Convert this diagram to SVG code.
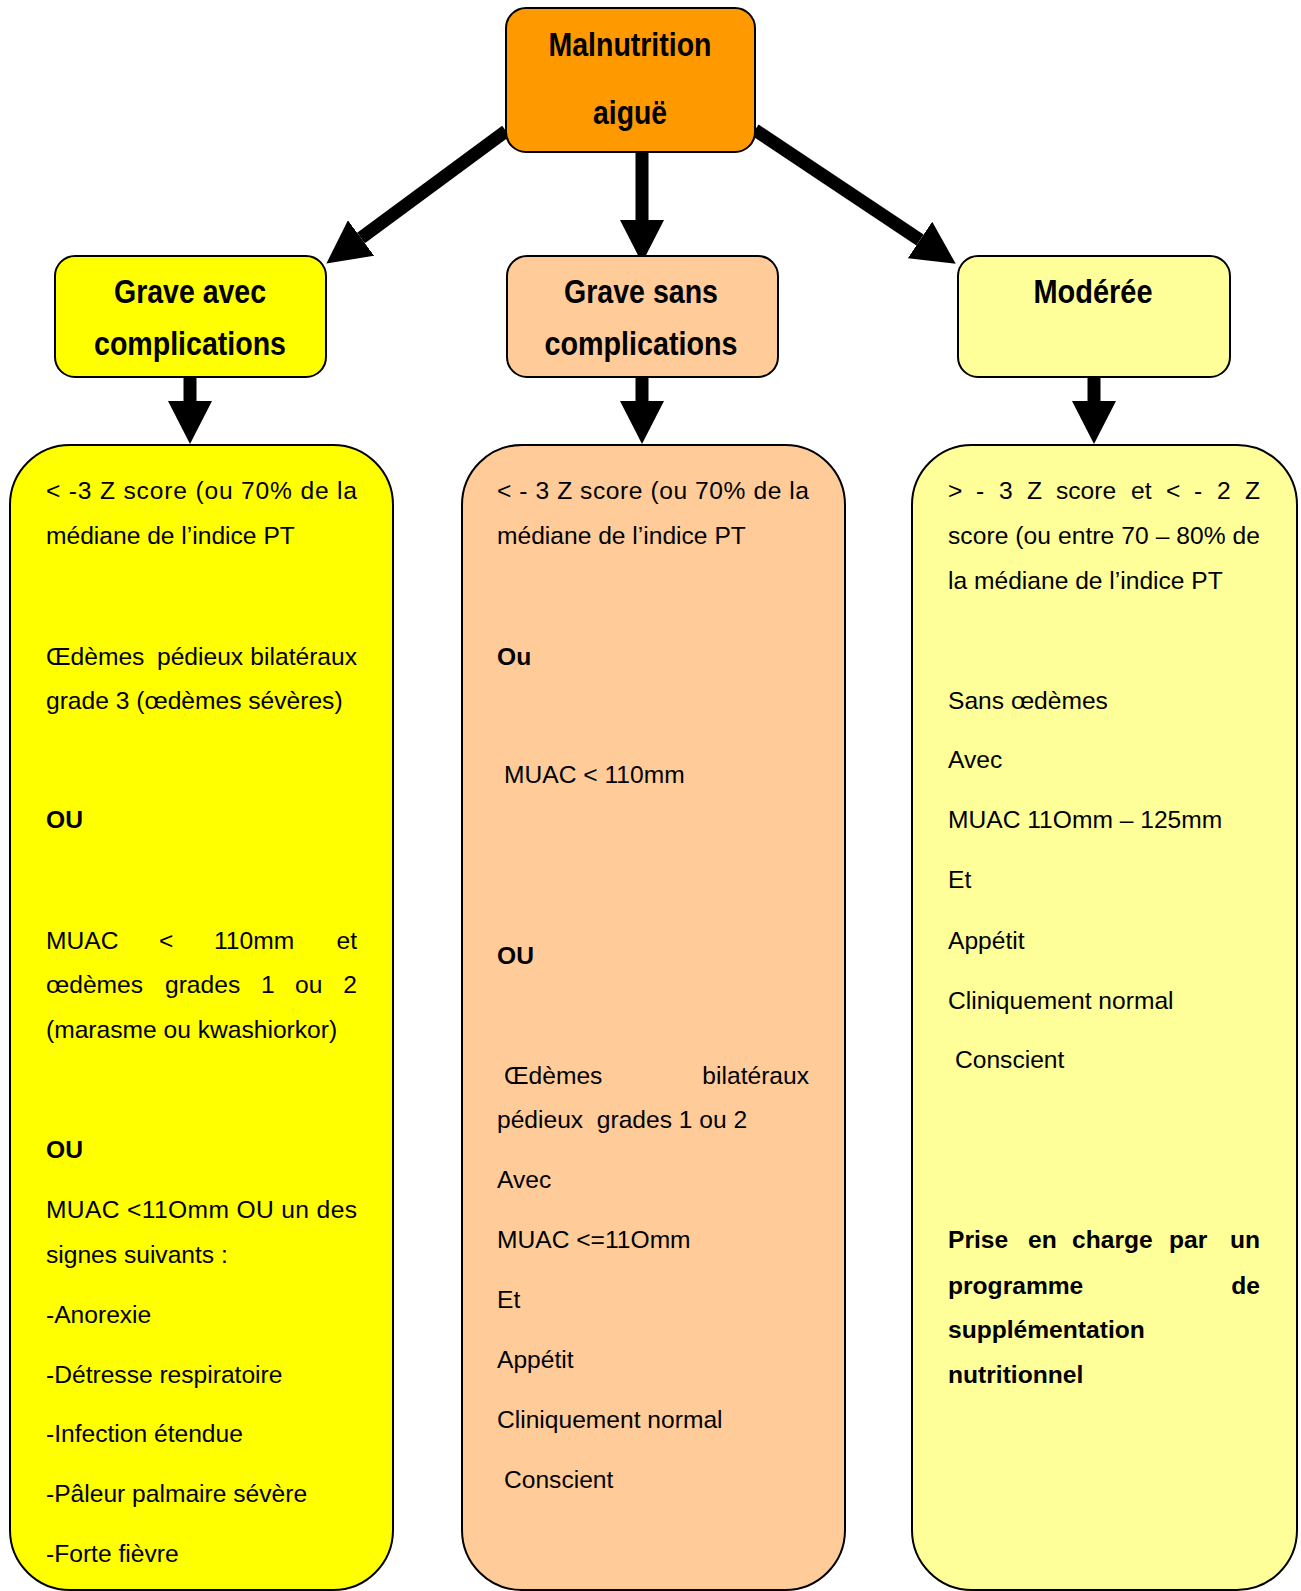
<svg xmlns="http://www.w3.org/2000/svg" width="1301" height="1591" viewBox="0 0 1301 1591">
<defs>
<style>
.box{stroke:#000;stroke-width:2}
.h{font-family:"Liberation Sans",Arial,sans-serif;font-weight:bold;font-size:33px;fill:#000;text-anchor:middle}
.t{font-family:"Liberation Sans",Arial,sans-serif;font-size:24.6px;fill:#000}
.b{font-weight:bold}
.e{text-anchor:end}
.conn{stroke:#000;stroke-width:13;fill:none;marker-end:url(#ah)}
</style>
<marker id="ah" markerUnits="userSpaceOnUse" markerWidth="44" markerHeight="44" refX="0" refY="22" orient="auto" viewBox="0 0 44 44">
<path d="M0,0 L43,22 L0,44 Z" fill="#000"/>
</marker>
</defs>
<rect width="1301" height="1591" fill="#fff"/>

<g id="connectors">
<line class="conn" x1="506" y1="131" x2="361" y2="238"/>
<line class="conn" x1="642" y1="150" x2="642" y2="220"/>
<line class="conn" x1="755" y1="130" x2="920" y2="240"/>
<line class="conn" x1="190" y1="376" x2="190" y2="401"/>
<line class="conn" x1="642" y1="376" x2="642" y2="401"/>
<line class="conn" x1="1094" y1="376" x2="1094" y2="401"/>
</g>

<g id="malnutrition">
<rect class="box" x="506" y="8" width="249" height="144" rx="20" fill="#FF9900"/>
<text class="h" x="630" y="56" textLength="163" lengthAdjust="spacingAndGlyphs">Malnutrition</text>
<text class="h" x="630" y="124" textLength="74" lengthAdjust="spacingAndGlyphs">aiguë</text>
</g>

<g id="grave-avec">
<rect class="box" x="55" y="256" width="271" height="121" rx="20" fill="#FFFF00"/>
<text class="h" x="190" y="303" textLength="152" lengthAdjust="spacingAndGlyphs">Grave avec</text>
<text class="h" x="190" y="355" textLength="192" lengthAdjust="spacingAndGlyphs">complications</text>
</g>

<g id="grave-sans">
<rect class="box" x="507" y="256" width="271" height="121" rx="20" fill="#FFCC99"/>
<text class="h" x="641" y="303" textLength="154" lengthAdjust="spacingAndGlyphs">Grave sans</text>
<text class="h" x="641" y="355" textLength="193" lengthAdjust="spacingAndGlyphs">complications</text>
</g>

<g id="moderee">
<rect class="box" x="958" y="256" width="272" height="121" rx="20" fill="#FFFF99"/>
<text class="h" x="1093" y="303" textLength="119" lengthAdjust="spacingAndGlyphs">Modérée</text>
</g>

<g id="criteres-grave-avec">
<rect class="box" x="10" y="445" width="383" height="1145" rx="60" fill="#FFFF00"/>
<text class="t" x="46" y="499" textLength="311" lengthAdjust="spacing">&lt; -3 Z score (ou 70% de la</text>
<text class="t" x="46" y="544">médiane de l’indice PT</text>
<text class="t" x="46" y="665">Œdèmes</text>
<text class="t" x="157" y="665">pédieux</text>
<text class="t e" x="357" y="665">bilatéraux</text>
<text class="t" x="46" y="709">grade 3 (œdèmes sévères)</text>
<text class="t b" x="46" y="828">OU</text>
<text class="t" x="46" y="949">MUAC</text>
<text class="t" x="159" y="949">&lt;</text>
<text class="t" x="214" y="949">110mm</text>
<text class="t e" x="357" y="949">et</text>
<text class="t" x="46" y="993">œdèmes</text>
<text class="t" x="165" y="993">grades</text>
<text class="t" x="261" y="993">1</text>
<text class="t" x="295" y="993">ou</text>
<text class="t e" x="357" y="993">2</text>
<text class="t" x="46" y="1038">(marasme ou kwashiorkor)</text>
<text class="t b" x="46" y="1158">OU</text>
<text class="t" x="46" y="1218" textLength="311" lengthAdjust="spacing">MUAC &lt;11Omm OU un des</text>
<text class="t" x="46" y="1263">signes suivants :</text>
<text class="t" x="46" y="1323">-Anorexie</text>
<text class="t" x="46" y="1383">-Détresse respiratoire</text>
<text class="t" x="46" y="1442">-Infection étendue</text>
<text class="t" x="46" y="1502">-Pâleur palmaire sévère</text>
<text class="t" x="46" y="1562">-Forte fièvre</text>
</g>

<g id="criteres-grave-sans">
<rect class="box" x="462" y="445" width="383" height="1145" rx="60" fill="#FFCC99"/>
<text class="t" x="497" y="499" textLength="312" lengthAdjust="spacing">&lt; - 3 Z score  (ou 70% de la</text>
<text class="t" x="497" y="544">médiane de l’indice PT</text>
<text class="t b" x="497" y="665">Ou</text>
<text class="t" x="504" y="783">MUAC &lt; 110mm</text>
<text class="t b" x="497" y="964">OU</text>
<text class="t" x="504" y="1084">Œdèmes</text>
<text class="t e" x="809" y="1084">bilatéraux</text>
<text class="t" x="497" y="1128" xml:space="preserve">pédieux  grades 1 ou 2</text>
<text class="t" x="497" y="1188">Avec</text>
<text class="t" x="497" y="1248">MUAC &lt;=11Omm</text>
<text class="t" x="497" y="1308">Et</text>
<text class="t" x="497" y="1368">Appétit</text>
<text class="t" x="497" y="1428">Cliniquement normal</text>
<text class="t" x="504" y="1488">Conscient</text>
</g>

<g id="criteres-moderee">
<rect class="box" x="912" y="445" width="385" height="1145" rx="60" fill="#FFFF99"/>
<text class="t" x="948" y="499">&gt;</text>
<text class="t" x="976" y="499">-</text>
<text class="t" x="999" y="499">3</text>
<text class="t" x="1027" y="499">Z</text>
<text class="t" x="1056" y="499">score</text>
<text class="t" x="1131" y="499">et</text>
<text class="t" x="1166" y="499">&lt;</text>
<text class="t" x="1194" y="499">-</text>
<text class="t" x="1217" y="499">2</text>
<text class="t e" x="1260" y="499">Z</text>
<text class="t" x="948" y="544" textLength="312" lengthAdjust="spacing">score (ou entre 70 – 80% de</text>
<text class="t" x="948" y="589">la médiane de l’indice PT</text>
<text class="t" x="948" y="709">Sans œdèmes</text>
<text class="t" x="948" y="768">Avec</text>
<text class="t" x="948" y="828">MUAC 11Omm – 125mm</text>
<text class="t" x="948" y="888">Et</text>
<text class="t" x="948" y="949">Appétit</text>
<text class="t" x="948" y="1009">Cliniquement normal</text>
<text class="t" x="955" y="1068">Conscient</text>
<text class="t b" x="948" y="1248">Prise</text>
<text class="t b" x="1028" y="1248">en</text>
<text class="t b" x="1072" y="1248">charge</text>
<text class="t b" x="1169" y="1248">par</text>
<text class="t b e" x="1260" y="1248">un</text>
<text class="t b" x="948" y="1294">programme</text>
<text class="t b e" x="1260" y="1294">de</text>
<text class="t b" x="948" y="1338">supplémentation</text>
<text class="t b" x="948" y="1383">nutritionnel</text>
</g>
</svg>
